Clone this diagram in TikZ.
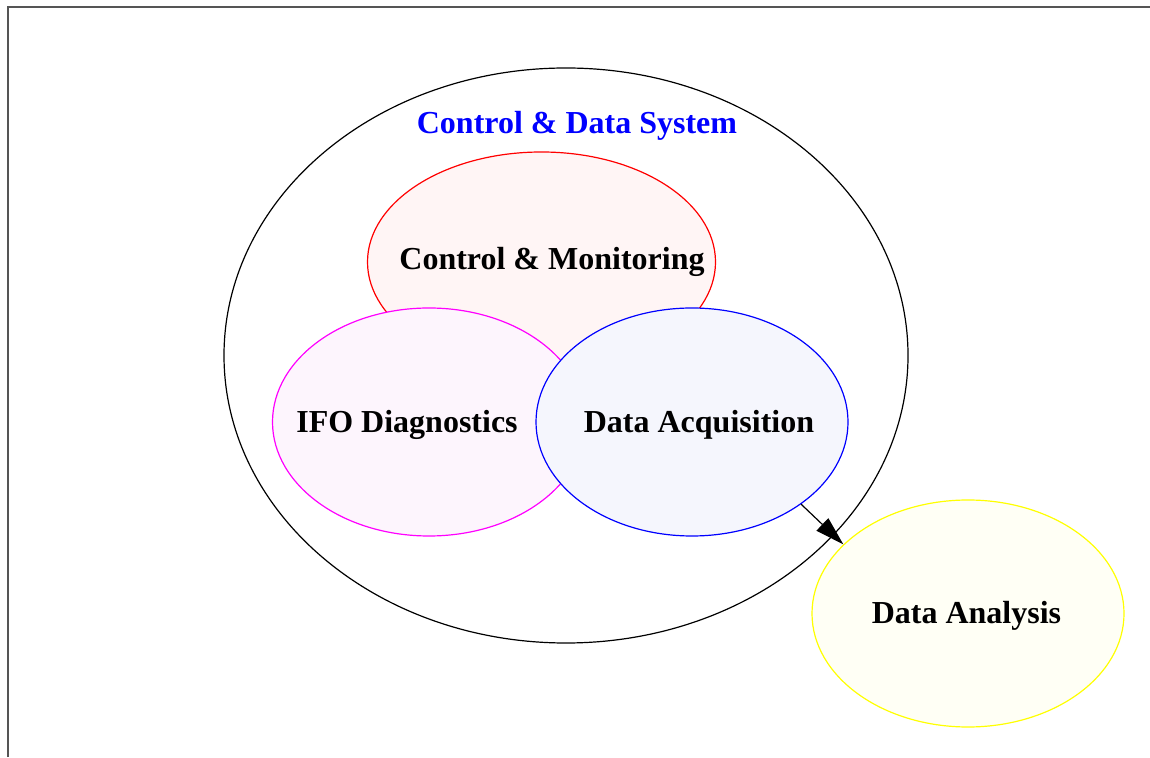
\documentclass[tikz,border=0pt]{standalone}
\usepackage{fontspec}
\setmainfont{Liberation Serif}
\usetikzlibrary{shapes.geometric,arrows.meta}
\definecolor{framegray}{HTML}{555555}
\definecolor{ctrlline}{HTML}{FF0000}
\definecolor{ifoline}{HTML}{FF00FF}
\definecolor{daqline}{HTML}{0000FF}
\definecolor{analine}{HTML}{FFFF00}
\definecolor{ctrlfill}{HTML}{FFF5F5}
\definecolor{ifofill}{HTML}{FDF5FD}
\definecolor{daqfill}{HTML}{F5F6FD}
\definecolor{anafill}{HTML}{FFFFF5}
\begin{document}
\begin{tikzpicture}[
                x=1pt, y=1pt,
                every node/.style={ellipse, inner sep=0pt, line width=1.2pt},
                sys/.style={draw=black, minimum width=684pt, minimum height=575pt},
                ctrl/.style={draw=ctrlline, fill=ctrlfill, minimum width=348pt, minimum height=220pt},
                ifo/.style={draw=ifoline, fill=ifofill, minimum width=313pt, minimum height=228pt},
                daq/.style={draw=daqline, fill=daqfill, minimum width=312pt, minimum height=228pt},
                ana/.style={draw=analine, fill=anafill, minimum width=312pt, minimum height=227pt},
                txt/.style={rectangle, draw=none, anchor=base, font=\fontsize{32}{38}\selectfont\bfseries},
            ]
            \useasboundingbox (0,0) rectangle (1150,757);
            \draw[framegray, line width=2pt] (8,0) -- (8,750) -- (1150,750);
            % outer system
            \node[sys] (system) at (566,401.5) {};
            \node[txt, text=daqline] (systemtxt) at (577,623) {Control \& Data System};
            % parts
            \node[ctrl] (control) at (541.5,495) {};
            \node[ifo] (diag) at (429,335) {};
            \node[daq] (acq) at (692,335) {};
            \node[ana] (analysis) at (968,143.5) {};
            \node[txt] (controltxt) at (552,487) {Control \& Monitoring};
            \node[txt] (diagtxt) at (407,324) {IFO Diagnostics};
            \node[txt] (acqtxt) at (699,324) {Data Acquisition};
            \node[txt] (analysistxt) at (966.5,133) {Data Analysis};
            \draw[line width=1.2pt, -{Triangle[length=29pt, width=17pt]}] (acq.-37) -- (analysis.151);
            \end{tikzpicture}
\end{document}
